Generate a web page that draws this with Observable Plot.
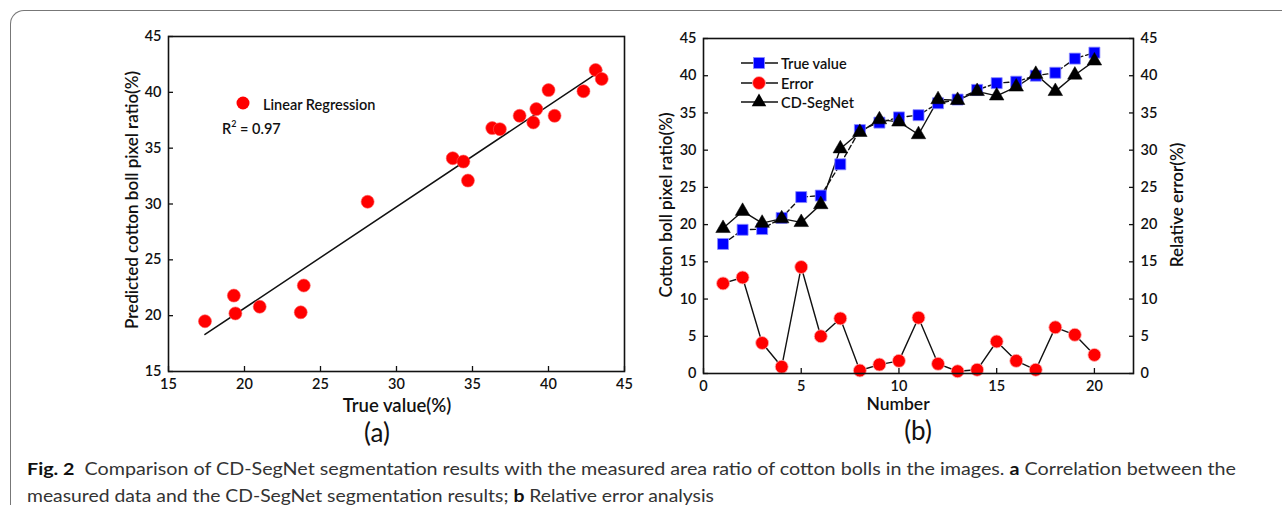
<!DOCTYPE html>
<html><head><meta charset="utf-8">
<script src="https://cdn.jsdelivr.net/npm/d3@7"></script>
<script src="https://cdn.jsdelivr.net/npm/@observablehq/plot@0.6"></script>
<style>
body{margin:0;background:#fff;width:1282px;height:513px;position:relative;overflow:hidden;font-family:Lato,"Open Sans",sans-serif;color:#111}
.abs{position:absolute;white-space:nowrap}
.c{transform:translate(-50%,-50%)}
.rot{transform:translate(-50%,-50%) rotate(-90deg)}
.t{font-weight:600;color:#111}
#frame{position:absolute;left:10px;top:10px;width:1300px;height:494px;border-top:1.5px solid #777;border-left:1.5px solid #777;border-top-left-radius:14px}
.cap{position:absolute;left:27px;font-family:Lato,sans-serif;font-size:17px;color:#333;transform-origin:0 50%;white-space:nowrap}
.cap b{color:#111}
svg text{font-weight:600}
</style></head><body>
<div id="frame"></div>
<div id="chartA" class="abs" style="left:0;top:0"></div>
<div id="chartB" class="abs" style="left:640px;top:0"></div>
<div id="overlay"></div>
<script>
// ---------- data ----------
// (a) scatter: measured (true) vs predicted
const scatterTrue = [17.4,19.3,19.4,21.0,23.7,23.9,28.1,33.7,34.4,34.7,36.3,36.8,38.1,39.0,39.2,40.0,40.4,42.3,43.1,43.5];
const scatterPred = [19.5,21.8,20.2,20.8,20.3,22.7,30.2,34.1,33.8,32.1,36.8,36.7,37.9,37.3,38.5,40.2,37.9,40.1,42.0,41.2];
// (b) per-image series
const numbers  = [1,2,3,4,5,6,7,8,9,10,11,12,13,14,15,16,17,18,19,20];
const trueVal  = [17.4,19.3,19.4,20.9,23.7,23.9,28.1,32.7,33.7,34.4,34.7,36.3,36.8,38.1,39.0,39.2,40.0,40.4,42.3,43.1];
const segNet   = [19.5,21.8,20.2,20.8,20.3,22.7,30.2,32.4,34.1,33.8,32.1,36.8,36.7,37.9,37.3,38.5,40.2,37.9,40.1,42.0];
const relErr   = [12.1,12.9,4.1,0.9,14.3,5.0,7.4,0.4,1.2,1.7,7.5,1.3,0.3,0.5,4.3,1.7,0.5,6.2,5.2,2.5];
// ticks
const ticksA = [15,20,25,30,35,40,45];
const ticksBx = [0,5,10,15,20];
const ticksBy = [0,5,10,15,20,25,30,35,40,45];
const legendB = ["True value","Error","CD-SegNet"];

const font = 'Lato,"Open Sans",sans-serif';
const axStyle = {tickSize:-5, tickPadding:12, fontSize:14.5, fill:"#111", stroke:"#111", strokeWidth:1.3};

// ---------- chart (a) ----------
const scatter = scatterTrue.map((x,i)=>({x, y: scatterPred[i]}));
const a = Plot.plot({
  width:660, height:450, marginLeft:168, marginRight:36, marginTop:36, marginBottom:79,
  style:{fontFamily:font, background:"transparent", overflow:"visible", color:"#111"},
  x:{domain:[15,45]}, y:{domain:[15,45]},
  marks:[
    Plot.axisX(ticksA, {...axStyle, label:null}),
    Plot.axisY(ticksA, {...axStyle, label:null}),
    Plot.linearRegressionY(scatter, {x:"x", y:"y", ci:0, stroke:"#111", strokeWidth:1.5}),
    Plot.dot(scatter, {x:"x", y:"y", r:6.5, fill:"#ff0000", stroke:"#ff5a5a", strokeWidth:0.6}),
    Plot.frame({stroke:"#111", strokeWidth:1.6})
  ]
});
document.getElementById("chartA").append(a);

// ---------- chart (b) ----------
const rows = numbers.map((n,i)=>({n, t:trueVal[i], s:segNet[i], e:relErr[i]}));
const b = Plot.plot({
  width:560, height:450, marginLeft:63, marginRight:67, marginTop:38, marginBottom:77,
  style:{fontFamily:font, background:"transparent", overflow:"visible", color:"#111"},
  x:{domain:[0,22]}, y:{domain:[0,45]},
  marks:[
    Plot.axisX(ticksBx, {...axStyle, label:null}),
    Plot.axisY(ticksBy, {...axStyle, label:null, anchor:"left"}),
    Plot.axisY(ticksBy, {...axStyle, label:null, anchor:"right"}),
    Plot.line(rows, {x:"n", y:"e", stroke:"#111", strokeWidth:1.4}),
    Plot.line(rows, {x:"n", y:"t", stroke:"#111", strokeWidth:1.4, strokeDasharray:"5,3"}),
    Plot.line(rows, {x:"n", y:"s", stroke:"#111", strokeWidth:1.4}),
    Plot.dot(rows, {x:"n", y:"e", r:6.5, fill:"#ff0000", stroke:"#ffb4b4", strokeWidth:0.8}),
    Plot.dot(rows, {x:"n", y:"t", r:6.2, symbol:"square", fill:"#0000ff", stroke:"#8c8cff", strokeWidth:0.8}),
    Plot.dot(rows, {x:"n", y:"s", r:5.4, symbol:"triangle", fill:"#000", stroke:"#000", strokeWidth:0.5}),
    Plot.frame({stroke:"#111", strokeWidth:1.6})
  ]
});
document.getElementById("chartB").append(b);

// ---------- text overlays ----------
const ov = document.getElementById("overlay");
function label(txt, x, y, size, cls, extra=""){
  const d = document.createElement("div");
  d.className = "abs " + cls;
  d.style.cssText = `left:${x}px;top:${y}px;font-size:${size}px;${extra}`;
  d.innerHTML = txt;
  ov.append(d);
  return d;
}
label("True value(%)", 397, 405, 18.5, "c t");
label("Predicted cotton boll pixel ratio(%)", 131, 200, 17, "rot t");
label("(a)", 377, 432, 26, "c");
label("Number", 898, 403, 17.5, "c t");
label("Cotton boll pixel ratio(%)", 665, 205, 17, "rot t");
label("Relative error(%)", 1176, 205, 17, "rot t");
label("(b)", 918, 430, 26, "c");

// legend (a)
const lgA = d3.select(ov).append("svg").attr("class","abs").style("left","0px").style("top","0px")
  .attr("width",660).attr("height",200);
lgA.append("circle").attr("cx",243).attr("cy",103).attr("r",6.5).attr("fill","#ff0000");
label("Linear Regression", 263, 104, 14.5, "t", "transform:translateY(-50%)");
label("R<sup style='font-size:9px;vertical-align:7px'>2</sup> = 0.97", 222, 127, 14.5, "t", "transform:translateY(-50%)");

// legend (b)
const lgB = d3.select(ov).append("svg").attr("class","abs").style("left","700px").style("top","40px")
  .attr("width",200).attr("height",80);
const ly = [23,43,62];
legendB.forEach((name,i)=>{
  const g = lgB.append("g").attr("transform",`translate(0,${ly[i]})`);
  g.append("line").attr("x1",41).attr("x2",78).attr("stroke","#111").attr("stroke-width",1.4);
  if(i===0) g.append("rect").attr("x",53.5).attr("y",-5.5).attr("width",11).attr("height",11).attr("fill","#0000ff").attr("stroke","#8c8cff").attr("stroke-width",0.8);
  if(i===1) g.append("circle").attr("cx",59).attr("r",6.5).attr("fill","#ff0000").attr("stroke","#ffb4b4").attr("stroke-width",0.8);
  if(i===2) g.append("path").attr("transform","translate(59,0)").attr("d",d3.symbol(d3.symbolTriangle, Math.PI*5.4*5.4)()).attr("fill","#000");
  label(name, 781, 40+ly[i], 14.5, "t", "transform:translateY(-50%)");
});

// caption
const cap1 = label("<b>Fig. 2</b>&nbsp; Comparison of CD-SegNet segmentation results with the measured area ratio of cotton bolls in the images. <b>a</b> Correlation between the", 27, 468, 17, "cap", "transform:translateY(-50%)");
const cap2 = label("measured data and the CD-SegNet segmentation results; <b>b</b> Relative error analysis", 27, 495, 17, "cap", "transform:translateY(-50%)");
function fit(el, w){ const cw = el.getBoundingClientRect().width; el.style.transform = `translateY(-50%) scaleX(${w/cw})`; }
fit(cap1, 1209); fit(cap2, 687);
</script>
</body></html>
